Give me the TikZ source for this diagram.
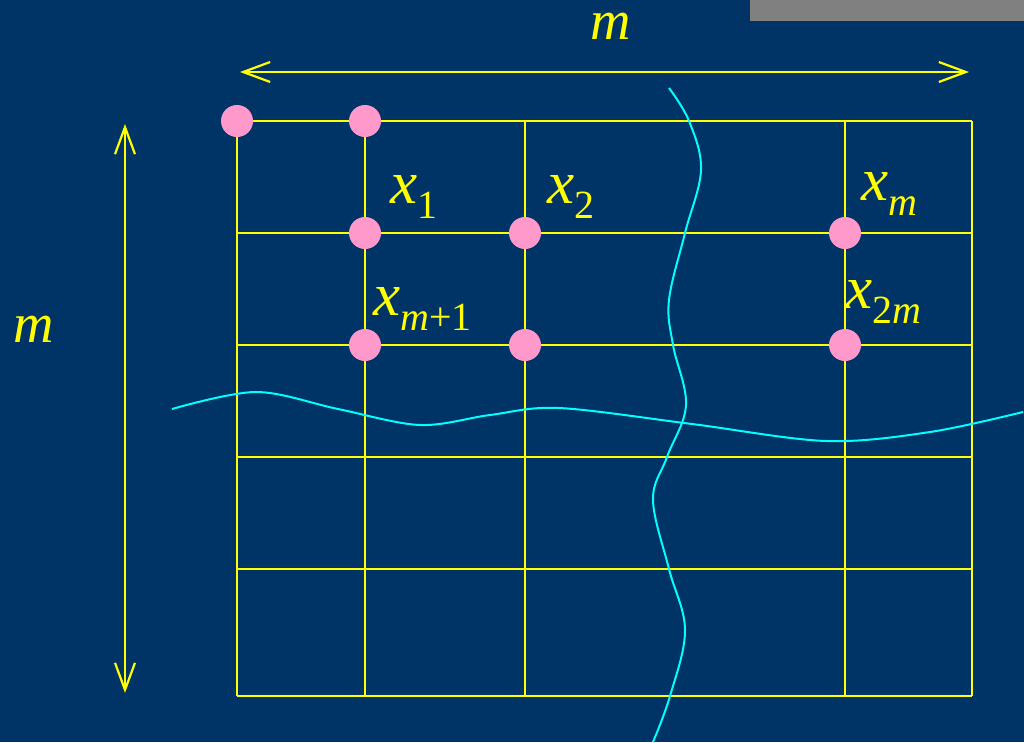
\documentclass[tikz,border=0pt]{standalone}
\usepackage{fontspec}
\setmainfont{Liberation Serif}
\usetikzlibrary{arrows.meta}

\definecolor{slidebg}{RGB}{0,51,102}
\definecolor{gridyellow}{RGB}{255,255,0}
\definecolor{dotpink}{RGB}{255,153,204}
\definecolor{cutcyan}{RGB}{0,255,255}
\definecolor{tabgrey}{RGB}{128,128,128}

% italic x with a lowered subscript
\newcommand{\varx}[1]{\textit{x}\raisebox{-0.25em}{\fontsize{40}{40}\selectfont #1}}

\begin{document}
\begin{tikzpicture}[
    x=1pt, y=-1pt,
    grid/.style={gridyellow, line width=2.4pt},
    dot/.style={circle, fill=dotpink, inner sep=0pt, minimum size=32pt},
    dim/.style={
        gridyellow, line width=2.2pt,
        {Straight Barb[length=27pt,width=20pt]}-{Straight Barb[length=27pt,width=20pt]}
    },
    cut/.style={cutcyan, line width=2pt},
    lbl/.style={text=gridyellow, anchor=base west, inner sep=0pt,
        font=\fontsize{61}{61}\selectfont},
    dimlbl/.style={lbl, font=\fontsize{56}{56}\selectfont\itshape}
]

% ===== PAGE =====
\fill[slidebg] (0,0) rectangle (1024,742);
\useasboundingbox (0,0) rectangle (1024,742);
\fill[tabgrey] (750,0) rectangle (1024,21);

% ===== GRID =====
\foreach \gx in {237,365,525,845,972}
    \draw[grid] (\gx,121) -- (\gx,696);
\foreach \gy in {121,233,345,457,569,696}
    \draw[grid] (237,\gy) -- (972,\gy);

% ===== CUTS =====
\draw[cut] plot[smooth, tension=0.6] coordinates {
    (669,88) (689,121) (701,170) (685,233) (669,300) (673,345)
    (686,405) (667,457) (653,500) (669,569) (685,630) (670,696) (653,742)};
\draw[cut] plot[smooth, tension=0.55] coordinates {
    (172,409) (256,392) (338,409) (420,425) (490,415) (559,408)
    (692,424) (826,441) (930,432) (1023,412)};

% ===== SAMPLE POINTS =====
\node[dot] (d00) at (237,121) {};
\node[dot] (d10) at (365,121) {};
\node[dot] (d11) at (365,233) {};
\node[dot] (d21) at (525,233) {};
\node[dot] (d31) at (845,233) {};
\node[dot] (d12) at (365,345) {};
\node[dot] (d22) at (525,345) {};
\node[dot] (d32) at (845,345) {};

% ===== LABELS =====
\node[lbl] (lx1)  at (390,203) {\varx{1}};
\node[lbl] (lx2)  at (547,203) {\varx{2}};
\node[lbl] (lxm)  at (861,200) {\varx{\textit{m}}};
\node[lbl] (lxm1) at (373,315) {\varx{\textit{m}+1}};
\node[lbl] (lx2m) at (845,308) {\varx{2\textit{m}}};

% ===== DIMENSIONS =====
\coordinate (hleft)  at (240,72);
\coordinate (hright) at (969,72);
\coordinate (vtop)   at (125,124);
\coordinate (vbot)   at (125,693);
\draw[dim] (hleft) -- (hright);
\draw[dim] (vtop) -- (vbot);

\node[dimlbl] (mtop)  at (590,39)  {m};
\node[dimlbl] (mleft) at (13,342)  {m};

\end{tikzpicture}
\end{document}
